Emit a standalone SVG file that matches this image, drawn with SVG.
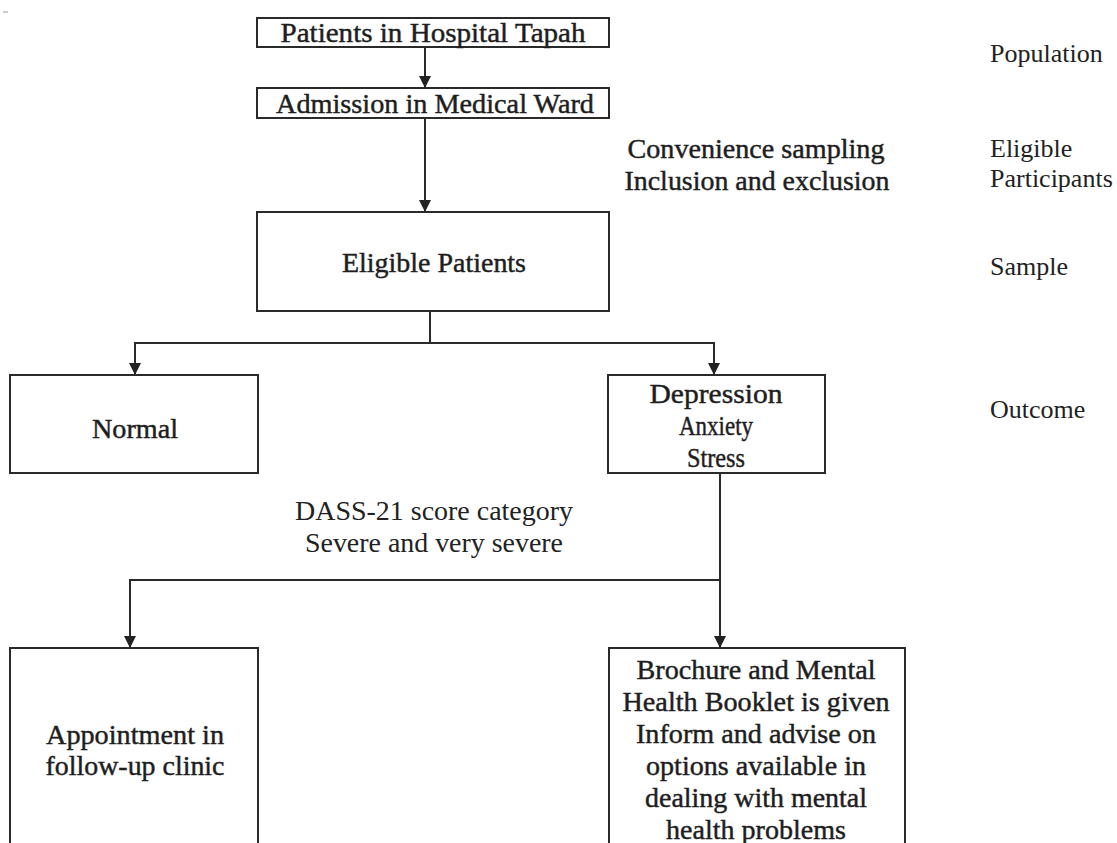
<svg xmlns="http://www.w3.org/2000/svg" width="1117" height="843" viewBox="0 0 1117 843">
<style>
.box{fill:#fff;stroke:#2a2a2a;stroke-width:2}
.bt{font-family:"Liberation Serif","Times New Roman",serif;font-size:28px;fill:#1e1e1e;stroke:#1e1e1e;stroke-width:0.45;text-anchor:middle}
.lt{font-family:"Liberation Serif","Times New Roman",serif;font-size:28px;fill:#222;text-anchor:middle}
.side{font-family:"Liberation Serif","Times New Roman",serif;font-size:26px;fill:#222}
.cn{fill:none;stroke:#2a2a2a;stroke-width:2}
</style>
<defs>
<marker id="ah" markerWidth="12" markerHeight="14" refX="12" refY="7" orient="auto" markerUnits="userSpaceOnUse">
<path d="M0,1 L12,7 L0,13 Z" fill="#222"/>
</marker>
</defs>
<rect width="1117" height="843" fill="#fff"/>
<line x1="3" y1="12" x2="8" y2="12" stroke="#999" stroke-width="1"/>
<g id="connectors">
<line class="cn" x1="425" y1="47" x2="425" y2="88" marker-end="url(#ah)"/>
<line class="cn" x1="425" y1="118" x2="425" y2="212" marker-end="url(#ah)"/>
<path class="cn" d="M430,311 V343"/>
<path class="cn" d="M135,343 H714"/>
<line class="cn" x1="135" y1="342" x2="135" y2="375" marker-end="url(#ah)"/>
<line class="cn" x1="714" y1="342" x2="714" y2="375" marker-end="url(#ah)"/>
<path class="cn" d="M720,473 V580"/>
<path class="cn" d="M130,580 H720"/>
<line class="cn" x1="130" y1="579" x2="130" y2="648" marker-end="url(#ah)"/>
<line class="cn" x1="720" y1="579" x2="720" y2="648" marker-end="url(#ah)"/>
</g>
<g id="n1"><rect class="box" x="257" y="18" width="352" height="29"/><text class="bt" x="433" y="42" textLength="305" lengthAdjust="spacingAndGlyphs">Patients in Hospital Tapah</text></g>
<g id="n2"><rect class="box" x="257" y="88" width="352" height="30"/><text class="bt" x="435" y="113" textLength="318" lengthAdjust="spacingAndGlyphs">Admission in Medical Ward</text></g>
<g id="n3"><rect class="box" x="257" y="212" width="352" height="99"/><text class="bt" x="434" y="272" textLength="184" lengthAdjust="spacingAndGlyphs">Eligible Patients</text></g>
<g id="n4"><rect class="box" x="10" y="375" width="248" height="98"/><text class="bt" x="135" y="438" textLength="86" lengthAdjust="spacingAndGlyphs">Normal</text></g>
<g id="n5"><rect class="box" x="608" y="375" width="217" height="98"/>
<text class="bt" x="716" y="403" textLength="133" lengthAdjust="spacingAndGlyphs">Depression</text>
<text class="bt" x="716" y="435" textLength="74" lengthAdjust="spacingAndGlyphs">Anxiety</text>
<text class="bt" x="716" y="467" textLength="58" lengthAdjust="spacingAndGlyphs">Stress</text></g>
<g id="n6"><rect class="box" x="10" y="648" width="248" height="200"/>
<text class="bt" x="135" y="744" textLength="178" lengthAdjust="spacingAndGlyphs">Appointment in</text>
<text class="bt" x="135" y="775" textLength="179" lengthAdjust="spacingAndGlyphs">follow-up clinic</text></g>
<g id="n7"><rect class="box" x="609" y="648" width="296" height="200"/>
<text class="bt" x="756" y="679" textLength="239" lengthAdjust="spacingAndGlyphs">Brochure and Mental</text>
<text class="bt" x="756" y="711" textLength="267" lengthAdjust="spacingAndGlyphs">Health Booklet is given</text>
<text class="bt" x="756" y="743" textLength="240" lengthAdjust="spacingAndGlyphs">Inform and advise on</text>
<text class="bt" x="756" y="775" textLength="220" lengthAdjust="spacingAndGlyphs">options available in</text>
<text class="bt" x="756" y="807" textLength="222" lengthAdjust="spacingAndGlyphs">dealing with mental</text>
<text class="bt" x="756" y="839" textLength="180" lengthAdjust="spacingAndGlyphs">health problems</text></g>
<g id="labels">
<text class="bt" x="756" y="158" textLength="257" lengthAdjust="spacingAndGlyphs">Convenience sampling</text>
<text class="bt" x="757" y="190" textLength="265" lengthAdjust="spacingAndGlyphs">Inclusion and exclusion</text>
<text class="lt" x="434" y="520" textLength="278" lengthAdjust="spacingAndGlyphs">DASS-21 score category</text>
<text class="lt" x="434" y="552" textLength="258" lengthAdjust="spacingAndGlyphs">Severe and very severe</text>
<text class="side" x="990" y="62">Population</text>
<text class="side" x="990" y="157">Eligible</text>
<text class="side" x="990" y="187">Participants</text>
<text class="side" x="990" y="275">Sample</text>
<text class="side" x="990" y="418">Outcome</text>
</g>
</svg>
